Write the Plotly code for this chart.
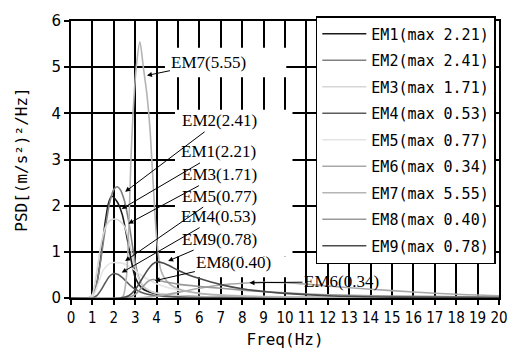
import plotly.graph_objects as go

# ---- data ----
names = ["EM1", "EM2", "EM3", "EM4", "EM5", "EM6", "EM7", "EM8", "EM9"]
maxima = [2.21, 2.41, 1.71, 0.53, 0.77, 0.34, 5.55, 0.40, 0.78]

em1_f = [0, 0.8, 1.0, 1.2, 1.4, 1.6, 1.75, 1.9, 2.05, 2.2, 2.4, 2.6, 2.8, 3.0, 3.3, 3.6, 4.0, 5.0, 7.0, 10, 20]
em1_y = [0, 0, 0.04, 0.3, 0.9, 1.65, 2.05, 2.21, 2.15, 2.05, 1.8, 1.35, 0.85, 0.45, 0.22, 0.14, 0.09, 0.04, 0.02, 0.01, 0]

em2_f = [0, 0.8, 1.0, 1.2, 1.4, 1.6, 1.8, 2.0, 2.15, 2.3, 2.5, 2.7, 2.9, 3.1, 3.3, 3.6, 4.0, 5.0, 7, 10, 20]
em2_y = [0, 0, 0.05, 0.3, 0.85, 1.5, 2.05, 2.35, 2.41, 2.35, 2.1, 1.65, 1.05, 0.55, 0.3, 0.17, 0.1, 0.05, 0.02, 0.01, 0]

em3_f = [0, 0.8, 1.0, 1.2, 1.4, 1.6, 1.8, 2.05, 2.3, 2.5, 2.7, 2.9, 3.1, 3.4, 3.8, 4.5, 6, 10, 20]
em3_y = [0, 0, 0.08, 0.55, 1.15, 1.52, 1.67, 1.71, 1.66, 1.55, 1.25, 0.85, 0.5, 0.25, 0.13, 0.07, 0.03, 0.01, 0]

em4_f = [0, 1.0, 1.2, 1.4, 1.6, 1.8, 2.0, 2.2, 2.4, 2.6, 2.8, 3.0, 3.3, 3.7, 4.2, 5, 7, 20]
em4_y = [0, 0, 0.05, 0.17, 0.33, 0.47, 0.53, 0.51, 0.44, 0.35, 0.26, 0.19, 0.12, 0.07, 0.04, 0.02, 0.01, 0]

em5_f = [0, 0.9, 1.1, 1.3, 1.5, 1.75, 2.0, 2.3, 2.6, 2.9, 3.2, 3.6, 4.0, 4.5, 5, 6, 8, 12, 20]
em5_y = [0, 0, 0.1, 0.35, 0.6, 0.73, 0.77, 0.76, 0.72, 0.63, 0.52, 0.4, 0.31, 0.23, 0.17, 0.1, 0.05, 0.02, 0]

em6_f = [0, 3, 4, 5, 6, 7, 8, 9, 10, 11, 12, 14, 16, 18, 20]
em6_y = [0, 0, 0.04, 0.12, 0.21, 0.28, 0.32, 0.34, 0.33, 0.3, 0.26, 0.19, 0.13, 0.08, 0.05]

em7_f = [0, 2.3, 2.45, 2.6, 2.7, 2.8, 2.9, 3.05, 3.22, 3.38, 3.55, 3.7, 3.8, 3.9, 4.0, 4.2, 4.5, 5, 6, 8, 12, 20]
em7_y = [0, 0, 0.05, 0.5, 1.5, 3.0, 4.0, 5.0, 5.55, 5.0, 4.4, 3.6, 2.8, 2.0, 1.3, 0.6, 0.35, 0.2, 0.1, 0.04, 0.02, 0]

em8_f = [0, 2.6, 3.0, 3.3, 3.6, 3.8, 4.0, 4.5, 5, 6, 7, 8, 10, 12, 15, 20]
em8_y = [0, 0, 0.08, 0.22, 0.36, 0.40, 0.39, 0.34, 0.3, 0.25, 0.21, 0.17, 0.11, 0.07, 0.04, 0.02]

em9_f = [0, 2.3, 2.7, 3.0, 3.3, 3.6, 3.8, 4.0, 4.3, 4.6, 5, 5.5, 6, 7, 8, 9, 10, 12, 15, 20]
em9_y = [0, 0, 0.05, 0.18, 0.4, 0.62, 0.73, 0.78, 0.76, 0.7, 0.6, 0.5, 0.42, 0.29, 0.2, 0.14, 0.1, 0.05, 0.02, 0.01]

series_f = [em1_f, em2_f, em3_f, em4_f, em5_f, em6_f, em7_f, em8_f, em9_f]
series_y = [em1_y, em2_y, em3_y, em4_y, em5_y, em6_y, em7_y, em8_y, em9_y]
colors = ["#1a1a1a", "#808080", "#d6d6d6", "#5a5a5a", "#e4e4e4", "#a8a8a8", "#b4b4b4", "#999999", "#4a4a4a"]

x_ticks = list(range(0, 21))
y_ticks = list(range(0, 7))

# annotation labels: arrow target (f, y) and text offset in px
label_order = ["EM7", "EM2", "EM1", "EM3", "EM5", "EM4", "EM9", "EM8", "EM6"]
label_tx = [3.55, 2.53, 2.37, 2.68, 2.53, 2.37, 4.54, 3.92, 8.34]
label_ty = [4.82, 2.30, 1.93, 1.61, 0.80, 0.55, 0.80, 0.375, 0.33]
label_ax = [62, 94, 97, 91, 94, 97, 51, 79, 92]
label_ay = [-13, -71, -57, -49, -65, -56, -22, -18, -1]

fig = go.Figure()
for i, n in enumerate(names):
    fig.add_trace(go.Scatter(
        x=series_f[i], y=series_y[i], mode="lines",
        line=dict(color=colors[i], width=1.6, shape="spline", smoothing=0.7),
        name=f"{n}(max {maxima[i]:.2f})", legendgroup=n,
    ))

for j, n in enumerate(label_order):
    k = names.index(n)
    fig.add_annotation(
        x=label_tx[j], y=label_ty[j], ax=label_ax[j], ay=label_ay[j],
        text=f"{n}({maxima[k]:.2f})", showarrow=True,
        arrowhead=2, arrowsize=1, arrowwidth=1, arrowcolor="black",
        font=dict(family="Liberation Serif", size=17, color="black"),
    )

# white areas of the original figure that hide the grid behind labels
fig.add_shape(type="rect", xref="x", yref="y", x0=4.86, x1=10.35, y0=0.9, y1=4.08,
              fillcolor="white", line_width=0, layer="between")
fig.add_shape(type="rect", xref="x", yref="y", x0=5.08, x1=10.35, y0=0.45, y1=0.9,
              fillcolor="white", line_width=0, layer="between")
fig.add_shape(type="rect", xref="x", yref="y", x0=4.39, x1=10.06, y0=4.78, y1=5.42,
              fillcolor="white", line_width=0, layer="between")

axis_common = dict(
    showgrid=True, gridcolor="black", gridwidth=1.5,
    showline=True, linecolor="black", linewidth=2,
    ticks="outside", ticklen=5, tickcolor="black", tickwidth=1.5,
    zeroline=False,
)
fig.update_xaxes(range=[0, 20], tickvals=x_ticks, mirror=True,
                 tickfont=dict(family="DejaVu Sans Condensed, DejaVu Sans", size=15, color="black"),
                 title=dict(text="Freq(Hz)", font=dict(family="DejaVu Sans Mono", size=16, color="black"), standoff=8),
                 **axis_common)
fig.update_yaxes(range=[0, 6], tickvals=y_ticks, mirror=True,
                 tickfont=dict(family="DejaVu Sans", size=15, color="black"),
                 title=dict(text="PSD[(m/s²)²/Hz]", font=dict(family="DejaVu Sans Mono", size=16, color="black"), standoff=20),
                 **axis_common)

fig.update_layout(
    width=520, height=359,
    margin=dict(l=71, r=19, t=14, b=61),
    plot_bgcolor="white", paper_bgcolor="white",
    showlegend=True,
    legend=dict(
        x=0.572, y=1.018, xanchor="left", yanchor="top",
        bgcolor="white", bordercolor="black", borderwidth=1.5,
        font=dict(family="DejaVu Sans Mono", size=15, color="black"),
        tracegroupgap=4, itemwidth=44, maxheight=1000,
    ),
)

fig.write_html("out.html")
